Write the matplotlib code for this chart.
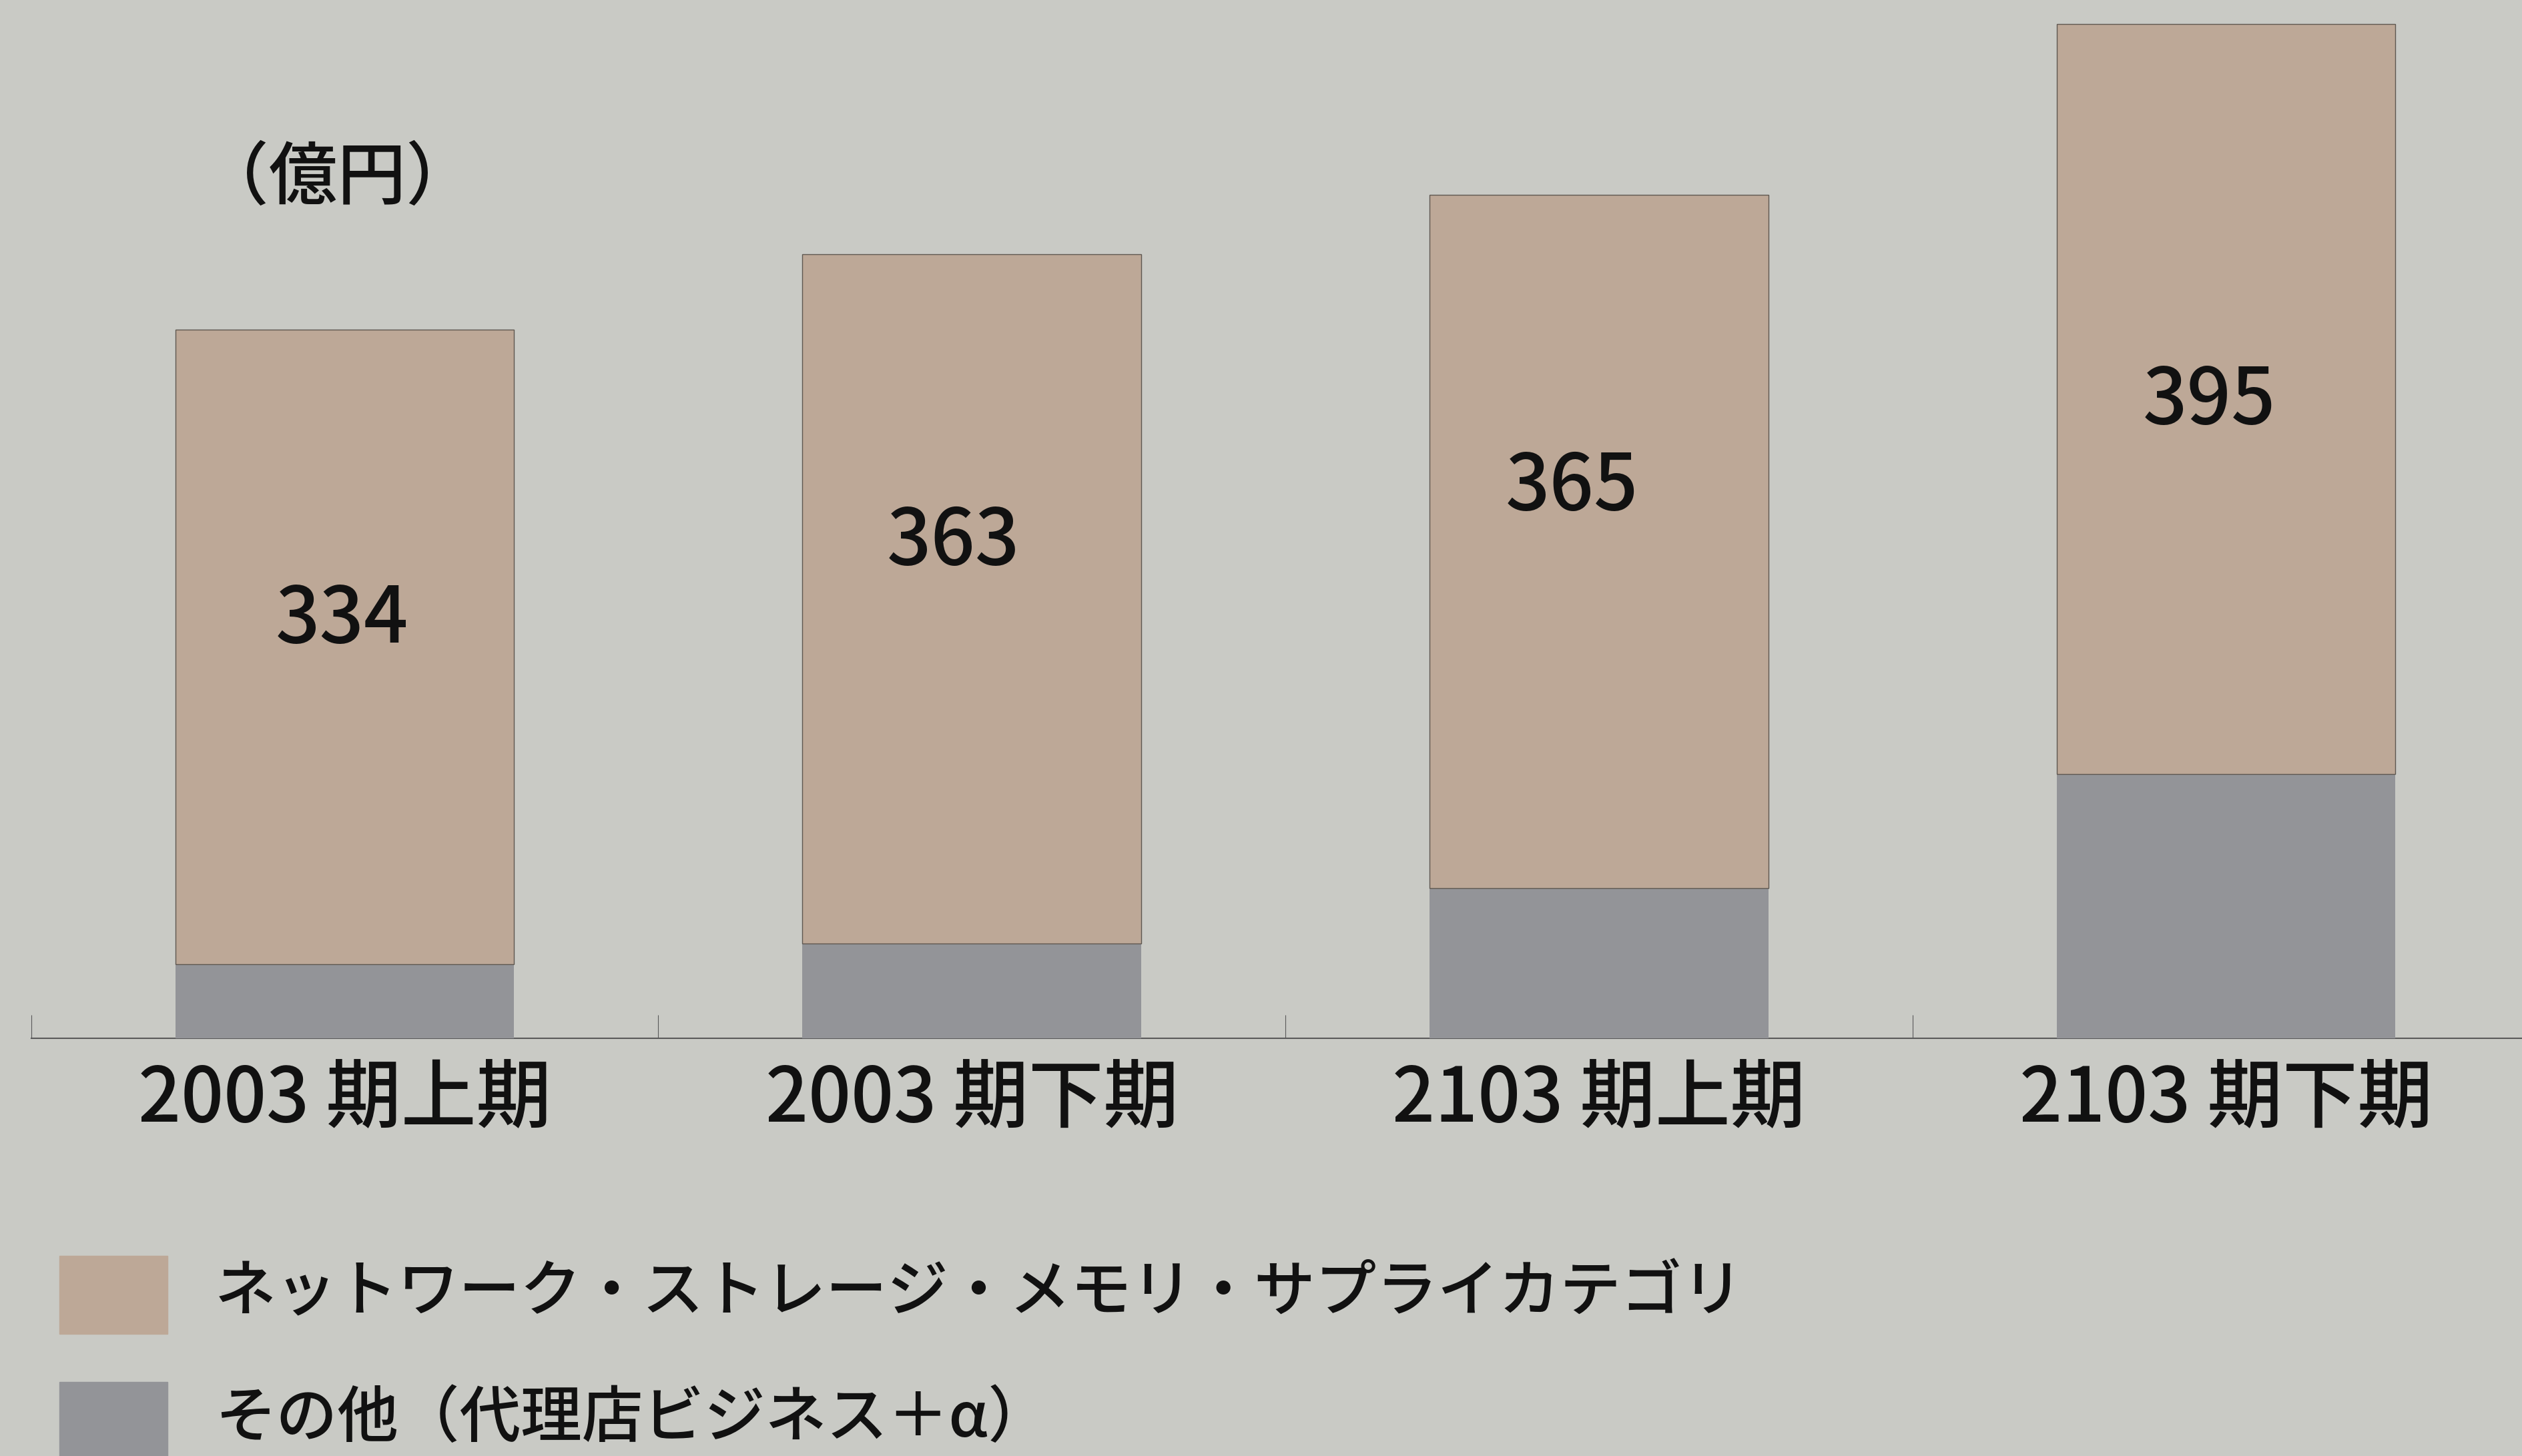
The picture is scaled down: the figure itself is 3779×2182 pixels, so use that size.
import numpy as np
import matplotlib.pyplot as plt
from matplotlib.patches import Rectangle

plt.rcParams['font.family'] = ['Noto Sans CJK JP', 'DejaVu Sans']

# half-year results (億円)
periods = ['2003 期上期', '2003 期下期', '2103 期上期', '2103 期下期']
network = [334, 363, 365, 395]   # ネットワーク・ストレージ・メモリ・サプライ
other = [39, 50, 79, 139]        # その他（代理店ビジネス＋α）

series_names = ['ネットワーク・ストレージ・メモリ・サプライカテゴリ',
                'その他（代理店ビジネス＋α）']
unit = '（億円）'

bg = '#c9cac5'
tan = '#bda897'
grey = '#939498'

W, H = 3780, 2182
fig = plt.figure(figsize=(W / 100, H / 100), dpi=100, facecolor=bg)
ax = fig.add_axes([46.6 / W, (H - 1556) / H, 1 - 46.6 / W, 1556 / H])
ax.set_facecolor(bg)

x = np.arange(len(periods))
ax.bar(x, other, width=0.54, color=grey, zorder=3)
ax.bar(x, network, bottom=other, width=0.54, color=tan,
       edgecolor='#5e5750', linewidth=1.0, zorder=3)

# value labels sit inside the tan segment (hand placed)
lab_dx = [-0.004, -0.029, -0.043, -0.027]
lab_frac = [0.542, 0.582, 0.578, 0.497]
for i, (o, n) in enumerate(zip(other, network)):
    ax.text(x[i] + lab_dx[i], o + n * lab_frac[i], str(n),
            ha='center', va='center', fontsize=84, fontweight='medium',
            color='#111111', zorder=4)

ax.set_xlim(-0.5, 3.473)
ax.set_ylim(0, 546.7)

for s in ['top', 'right', 'left']:
    ax.spines[s].set_visible(False)
ax.spines['bottom'].set_color('#5a5a5a')
ax.spines['bottom'].set_linewidth(1.5)
ax.spines['bottom'].set_zorder(1)
ax.set_yticks([])

# boundary ticks point up into the plot, labels sit under the bars
ax.set_xticks(x - 0.5)
ax.set_xticklabels([])
ax.tick_params(axis='x', which='major', direction='in', length=25,
               width=0.8, color='#5a5a5a')
ax.set_xticks(x, minor=True)
ax.set_xticklabels(periods, minor=True, fontsize=81, fontweight='medium',
                   color='#111111')
ax.tick_params(axis='x', which='minor', length=0, pad=25)

fig.text(506 / W, 1 - 268 / H, unit, ha='center', va='center',
         fontsize=74, fontweight='medium', color='#111111')

# legend drawn by hand at the bottom left
for k, (c, name) in enumerate(zip([tan, grey], series_names)):
    top = 1882 + k * 189
    fig.add_artist(Rectangle((89 / W, 1 - (top + 117) / H), 162 / W, 117 / H,
                             transform=fig.transFigure, color=c))
    fig.text(322 / W, 1 - (top + 56) / H, name, ha='left', va='center',
             fontsize=66, fontweight='medium', color='#111111')

fig.savefig('out.png', dpi=100, facecolor=bg)
